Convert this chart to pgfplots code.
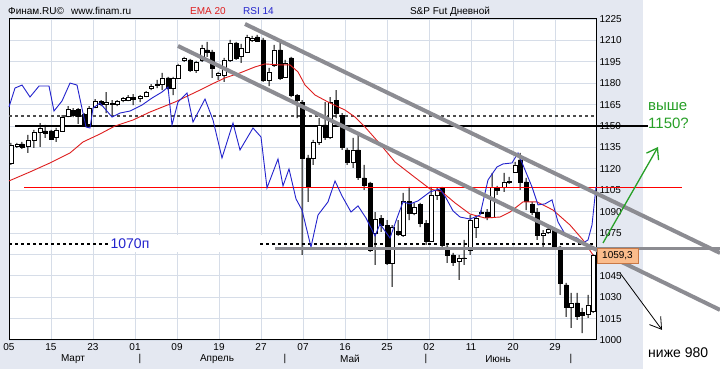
\documentclass[border=0pt]{standalone}
\usepackage{fontspec}
\setmainfont{Liberation Sans}
\usepackage{pgfplots}
\usepackage{pgfplotstable}
\pgfplotsset{compat=1.18}
\usetikzlibrary{arrows.meta}
\definecolor{bgc}{RGB}{228,232,241}
\definecolor{gridc}{RGB}{214,221,232}
\definecolor{emac}{RGB}{222,30,30}
\definecolor{rsic}{RGB}{35,35,205}
\definecolor{chan}{RGB}{140,140,146}
\definecolor{grn}{RGB}{40,160,40}
\definecolor{boxc}{RGB}{250,188,140}
\definecolor{boxd}{RGB}{200,120,70}

\pgfplotstableread{
u O H L C
2 1124.1 1138.1 1122.7 1136.7
8 1136.0 1138.1 1134.6 1137.4
13 1137.4 1138.8 1133.9 1135.3
19 1136.0 1143.7 1131.1 1140.2
25 1140.2 1147.2 1134.6 1145.8
31 1145.8 1152.1 1135.3 1148.6
36 1146.5 1150.7 1141.6 1145.1
42 1146.5 1147.2 1140.2 1140.9
47 1142.3 1148.6 1138.8 1147.2
53 1146.5 1157.7 1145.8 1156.3
59 1157.0 1164.0 1156.3 1161.9
64 1161.2 1162.6 1156.3 1157.7
69 1161.9 1162.6 1151.4 1157.0
75 1158.4 1159.1 1150.0 1151.4
80 1151.4 1164.0 1149.3 1162.6
86 1163.3 1168.9 1162.6 1167.5
92 1167.5 1168.2 1164.0 1165.4
97 1165.4 1173.8 1159.1 1166.8
103 1166.1 1168.2 1157.7 1165.4
108 1165.4 1168.2 1164.0 1167.5
114 1168.2 1170.3 1166.8 1169.6
119 1168.2 1171.7 1167.5 1170.3
124 1170.3 1172.4 1164.7 1168.9
131 1169.6 1171.7 1166.8 1171.0
137 1171.0 1174.5 1170.3 1173.8
142 1176.6 1179.4 1175.2 1178.0
148 1179.4 1182.3 1176.6 1178.7
153 1179.4 1187.2 1175.2 1183.7
159 1183.7 1184.4 1175.2 1176.6
164 1176.6 1184.4 1171.7 1183.7
169 1183.7 1193.5 1183.0 1192.8
175 1196.3 1198.4 1194.9 1197.7
181 1196.3 1197.0 1187.9 1189.3
187 1189.3 1195.6 1187.2 1194.9
193 1196.3 1206.8 1194.9 1204.7
198 1203.3 1208.9 1198.4 1201.9
203 1201.9 1203.3 1183.7 1190.7
209 1185.8 1187.9 1182.3 1187.2
215 1185.8 1197.7 1180.9 1196.3
221 1196.3 1210.3 1194.9 1208.2
227 1208.2 1208.9 1196.3 1197.7
232 1199.1 1207.5 1194.2 1204.7
238 1201.9 1213.8 1201.2 1212.4
243 1210.3 1213.1 1208.9 1211.7
248 1212.4 1213.8 1208.9 1209.6
254 1210.3 1211.7 1180.9 1182.3
260 1182.3 1190.7 1178.0 1187.9
265 1192.8 1206.8 1191.4 1203.3
271 1203.3 1208.2 1182.3 1183.7
276 1184.4 1196.3 1183.7 1194.2
282 1197.7 1198.4 1170.3 1171.7
288 1171.7 1172.4 1155.6 1168.2
293 1166.8 1168.2 1059.6 1127.6
299 1127.6 1129.7 1096.8 1107.3
304 1127.6 1140.2 1122.7 1138.8
310 1138.8 1155.6 1136.7 1150.7
316 1150.7 1166.8 1140.2 1142.3
321 1142.3 1170.3 1140.9 1166.8
327 1168.2 1175.2 1155.6 1159.1
333 1157.7 1159.1 1133.2 1135.3
338 1133.2 1134.6 1122.7 1124.8
344 1124.8 1141.6 1120.6 1133.2
349 1133.2 1145.8 1112.2 1114.3
355 1113.6 1122.7 1105.2 1108.7
361 1110.1 1110.8 1061.7 1063.1
366 1075.0 1089.7 1052.6 1084.8
372 1085.5 1087.6 1075.7 1080.6
378 1080.6 1084.1 1052.6 1054.0
383 1054.0 1080.6 1037.2 1079.2
389 1076.4 1084.1 1072.9 1074.3
394 1073.6 1103.1 1072.2 1096.8
400 1096.8 1107.3 1084.1 1089.0
405 1089.0 1096.1 1087.6 1093.2
411 1094.7 1096.1 1079.2 1082.0
417 1082.0 1084.1 1066.6 1069.4
422 1069.4 1107.3 1068.7 1101.7
428 1101.7 1106.6 1098.2 1105.2
433 1106.6 1107.3 1065.2 1066.6
438 1065.2 1066.6 1054.0 1059.6
444 1059.6 1061.0 1051.9 1054.7
450 1055.4 1059.6 1042.1 1057.5
455 1057.5 1070.1 1052.6 1057.0
461 1063.1 1087.6 1059.6 1084.1
467 1079.2 1086.9 1071.5 1085.5
472 1089.0 1091.1 1088.3 1089.7
478 1089.7 1091.8 1084.1 1086.2
483 1086.2 1117.1 1085.5 1107.3
488 1106.6 1108.0 1101.7 1105.2
495 1107.3 1117.1 1103.8 1110.8
500 1110.8 1114.3 1109.4 1111.5
506 1117.8 1124.8 1117.1 1122.7
511 1126.2 1131.1 1105.2 1110.8
517 1110.8 1113.6 1091.1 1096.8
523 1094.7 1096.8 1087.6 1089.7
528 1089.7 1092.5 1070.1 1073.6
534 1073.6 1077.1 1065.2 1075.0
539 1075.7 1079.2 1074.3 1077.8
545 1077.1 1078.5 1063.8 1065.2
551 1065.2 1065.9 1031.6 1040.0
557 1038.6 1040.0 1016.2 1023.2
562 1022.5 1033.0 1008.5 1026.0
568 1026.0 1033.0 1014.1 1016.2
573 1019.0 1022.5 1004.9 1016.9
579 1017.6 1031.6 1015.5 1024.6
584 1019.7 1060.0 1019.0 1059.3
}\candles

\pgfplotstableread{
u v
0 1111.5
21 1117.8
41 1124.1
61 1131.1
74 1138.8
91 1144.4
106 1150.0
124 1154.2
141 1159.8
166 1166.8
191 1175.2
203 1179.4
216 1183.7
231 1187.2
246 1191.4
256 1193.5
271 1192.8
281 1192.8
289 1187.9
296 1178.7
306 1171.7
321 1166.1
336 1161.2
346 1156.3
356 1149.3
371 1137.4
386 1124.8
404 1115.0
421 1105.9
433 1103.8
446 1096.1
461 1088.3
476 1085.5
491 1086.2
501 1089.7
514 1096.8
528 1096.8
544 1091.1
561 1080.6
574 1070.1
584 1059.6
}\ema

\pgfplotstableread{
u v
0 1163.3
6 1176.6
13 1178.7
21 1170.3
30 1178.0
40 1178.0
45 1160.5
53 1167.5
61 1180.1
68 1178.7
77 1149.3
81 1148.6
84 1162.6
91 1166.1
103 1156.3
111 1159.1
121 1160.5
133 1164.7
143 1169.6
153 1173.8
159 1177.3
163 1150.7
169 1166.8
178 1173.1
184 1152.8
196 1168.9
204 1154.2
213 1127.6
224 1152.1
231 1133.2
244 1148.6
252 1142.3
258 1106.6
269 1126.9
274 1108.0
280 1119.9
287 1098.9
293 1091.1
302 1065.2
309 1087.6
319 1096.8
326 1111.5
333 1101.0
342 1089.7
349 1094.0
357 1085.5
366 1072.9
371 1081.3
381 1071.5
388 1085.5
394 1096.8
401 1095.4
409 1097.5
421 1103.8
431 1105.9
437 1099.6
444 1090.5
451 1086.2
461 1084.8
471 1087.6
479 1112.2
488 1121.3
494 1123.4
503 1124.1
509 1131.1
516 1119.2
523 1107.3
529 1094.7
536 1095.4
543 1098.2
549 1082.7
556 1074.3
568 1071.5
574 1068.0
579 1070.1
583 1080.6
587 1107.3
}\rsi

\pgfplotsset{chartframe/.style={at={(0pt,0pt)}, anchor=south west,
  scale only axis, width=587pt, height=321pt,
  xmin=0, xmax=587, ymin=1000, ymax=1225, enlargelimits=false}}

\begin{document}
\begin{tikzpicture}
\path[use as bounding box] (-9pt,-29pt) rectangle (711pt,340pt);
\fill[bgc] (-9pt,-29pt) rectangle (711pt,340pt);
\fill[white] (634pt,-29pt) rectangle (711pt,340pt);

% base axis: grid, frame, ticks, horizontal levels
\begin{axis}[chartframe,
  axis background/.style={fill=white},
  xtick={0,42,...,546},
  xticklabels={05,15,23,01,09,19,27,07,16,25,02,11,20,29},
  ytick={1000,1015,...,1225},
  yticklabels={1000,1015,1030,1045,,1075,1090,1105,1120,1135,1150,1165,1180,1195,1210,1225},
  yticklabel pos=right,
  grid=major,
  grid style={gridc, line width=0.8pt},
  major tick length=0pt,
  axis line style={black, line width=1pt},
  tick label style={font=\fontsize{10}{12}\selectfont, text=black},
  clip=false]
\fill[white] (axis cs:99,1062) rectangle (axis cs:253,1073.5);
\addplot[draw=black!70, line width=1.2pt, dash pattern=on 3pt off 3pt] coordinates {(0,1157) (587,1157)};
\addplot[draw=black, line width=1.2pt, dash pattern=on 3pt off 3pt] coordinates {(0,1067.3) (99,1067.3)};
\addplot[draw=black, line width=1.2pt, dash pattern=on 3pt off 3pt] coordinates {(251,1067.3) (587,1067.3)};
\addplot[draw=black, line width=1.8pt] coordinates {(6,1150) (639,1150)};
\node[text=rsic, font=\fontsize{14}{16}\selectfont] at (axis cs:121,1067.3) {1070п};
\end{axis}

% wicks
\begin{axis}[chartframe, hide axis, ybar stacked, bar width=1]
\addplot[draw=none, fill=none] table[x=u, y=L] {\candles};
\addplot[draw=none, fill=black] table[x=u, y expr=\thisrow{H}-\thisrow{L}] {\candles};
\end{axis}

% bodies
\begin{axis}[chartframe, hide axis, ybar stacked, bar width=4]
\addplot[draw=none, fill=none] table[x=u, y expr={min(\thisrow{O},\thisrow{C})}] {\candles};
\addplot[draw=black, fill=white, line width=0.8pt] table[x=u, y expr={max(\thisrow{C}-\thisrow{O},0)}] {\candles};
\addplot[draw=black, fill=black, line width=0.8pt] table[x=u, y expr={max(\thisrow{O}-\thisrow{C},0)}] {\candles};
\end{axis}

% overlay: indicators, level, channel, arrows
\begin{axis}[chartframe, hide axis, clip=false]
\addplot[color=red, solid, line width=1.5pt] coordinates {(15,1107) (673,1107)};
\addplot[draw=emac, line width=0.9pt] table[x=u, y=v] {\ema};
\addplot[draw=rsic, line width=0.9pt] table[x=u, y=v] {\rsi};
\addplot[draw=chan, line width=2.5pt] coordinates {(266,1064.2) (711,1064.2)};
\addplot[draw=chan, line width=4pt] coordinates {(236,1221.5) (711,1061)};
\addplot[draw=chan, line width=4pt] coordinates {(169,1206.1) (711,1021.1)};
\addplot[draw=grn, line width=1.3pt, -{Straight Barb[length=10pt,width=14pt]}] coordinates {(594,1068) (649,1135.3)};
\addplot[draw=black, line width=0.8pt, -{Straight Barb[length=11pt,width=14pt]}] coordinates {(611,1047) (653,1007.1)};
\node[fill=boxc, draw=boxd, line width=0.6pt, minimum width=41pt, minimum height=15pt, inner sep=0pt, font=\fontsize{10}{12}\selectfont] at (axis cs:608.5,1059.3) {1059,3};
\end{axis}

% header texts
\node[anchor=west, font=\fontsize{10}{12}\selectfont, inner sep=0pt] at (-1pt,329pt) {Финам.RU©};
\node[anchor=west, font=\fontsize{10}{12}\selectfont, inner sep=0pt] at (62pt,329pt) {www.finam.ru};
\node[anchor=west, font=\fontsize{10}{12}\selectfont, inner sep=0pt, text=emac] at (181pt,329pt) {EMA 20};
\node[anchor=west, font=\fontsize{10}{12}\selectfont, inner sep=0pt, text=rsic] at (234pt,329pt) {RSI 14};
\node[font=\fontsize{10}{12}\selectfont, inner sep=0pt] at (441pt,328pt) {S\&P Fut Дневной};

% month labels
\foreach \mx/\mt in {64/Март, 208/Апрель, 341/Май, 489/Июнь}
  \node[font=\fontsize{10}{12}\selectfont, inner sep=0pt] at (\mx pt,-19pt) {\mt};
\foreach \sx in {131,276,417,562}
  \node[font=\fontsize{10}{12}\selectfont, inner sep=0pt] at (\sx pt,-19pt) {|};

% annotations
\node[anchor=west, text=grn, font=\fontsize{15}{17}\selectfont, inner sep=0pt] at (639pt,233pt) {выше};
\node[anchor=west, text=grn, font=\fontsize{15}{17}\selectfont, inner sep=0pt] at (639pt,217pt) {1150?};
\node[anchor=west, font=\fontsize{14}{16}\selectfont, inner sep=0pt] at (639pt,-13pt) {ниже 980};
\end{tikzpicture}
\end{document}
